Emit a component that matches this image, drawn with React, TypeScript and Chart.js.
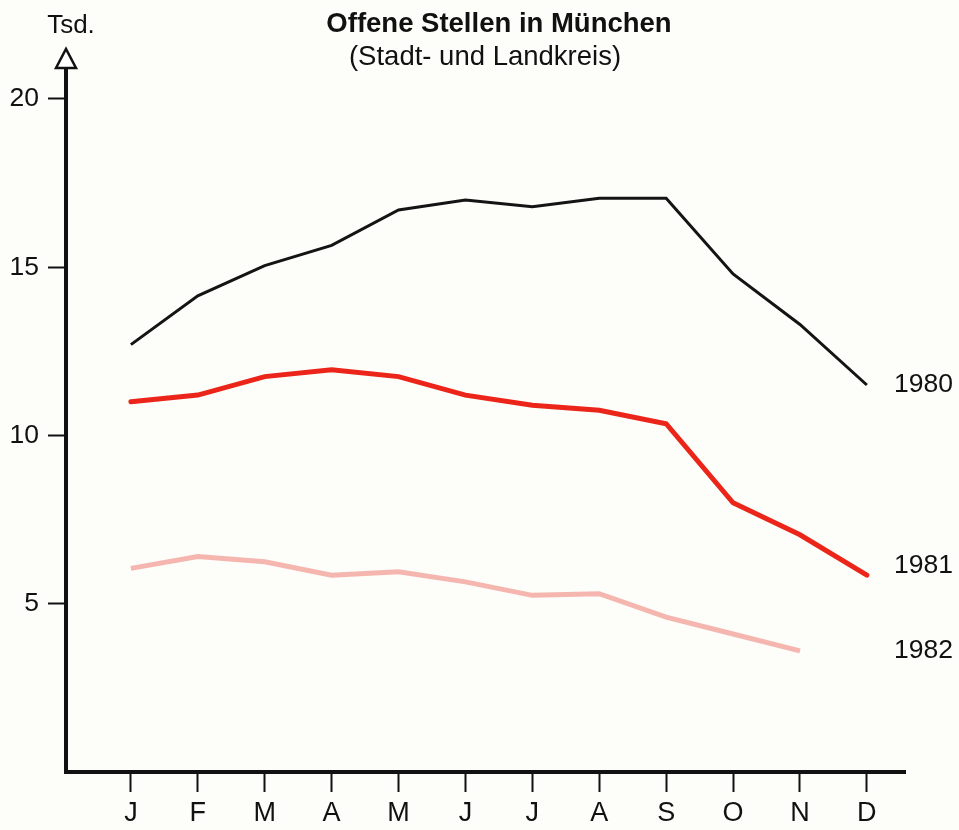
import React, { useEffect, useRef } from "react";
import { Chart, registerables } from "chart.js";

Chart.register(...registerables);

const months = ["J", "F", "M", "A", "M", "J", "J", "A", "S", "O", "N", "D"];
const values1980 = [12.7, 14.15, 15.05, 15.65, 16.7, 17.0, 16.8, 17.05, 17.05, 14.8, 13.3, 11.5];
const values1981 = [11.0, 11.2, 11.75, 11.95, 11.75, 11.2, 10.9, 10.75, 10.35, 8.0, 7.05, 5.85];
const values1982 = [6.05, 6.4, 6.25, 5.85, 5.95, 5.65, 5.25, 5.3, 4.6, 4.1, 3.6, null];
const yTicks = [5, 10, 15, 20];
const seriesNames = ["1980", "1981", "1982"];
const titleText = "Offene Stellen in München";
const subtitleText = "(Stadt- und Landkreis)";
const unitText = "Tsd.";

const FONT = '"Liberation Sans", Arial, Helvetica, sans-serif';
const INK = "#111111";
const BG = "#fdfdf9";

const toPoints = (vals: (number | null)[]) => vals.map((v, i) => ({ x: i, y: v }));

const decorPlugin = {
  id: "decor",
  beforeDraw(chart: any) {
    const { ctx } = chart;
    ctx.save();
    ctx.fillStyle = BG;
    ctx.fillRect(0, 0, chart.width, chart.height);
    ctx.restore();
  },
  afterDraw(chart: any) {
    const { ctx, chartArea } = chart;
    const ax = chartArea.left;
    const top = chartArea.top;
    ctx.save();
    // arrow head on y axis
    ctx.beginPath();
    ctx.moveTo(ax - 10, top + 1);
    ctx.lineTo(ax + 10, top + 1);
    ctx.lineTo(ax, top - 18);
    ctx.closePath();
    ctx.fillStyle = "#ffffff";
    ctx.fill();
    ctx.lineWidth = 2.5;
    ctx.strokeStyle = INK;
    ctx.stroke();

    ctx.fillStyle = INK;
    ctx.textBaseline = "alphabetic";
    ctx.textAlign = "center";
    ctx.font = `26px ${FONT}`;
    ctx.fillText(unitText, 71, 33);
    ctx.font = `bold 27.5px ${FONT}`;
    ctx.fillText(titleText, 499, 32);
    ctx.font = `27.5px ${FONT}`;
    ctx.fillText(subtitleText, 485, 65);

    ctx.textAlign = "left";
    ctx.font = `26.5px ${FONT}`;
    const labelY = [392, 573, 658];
    seriesNames.forEach((n, i) => ctx.fillText(n, 894, labelY[i]));
    ctx.restore();
  },
};

export default function App() {
  const ref = useRef<HTMLCanvasElement | null>(null);
  useEffect(() => {
    document.body.style.margin = "0";
    document.body.style.background = BG;
    if (!ref.current) return;
    const chart = new Chart(ref.current, {
      type: "line",
      data: {
        datasets: [
          {
            data: toPoints(values1980) as any,
            borderColor: "#141414",
            borderWidth: 3,
            pointRadius: 0,
            tension: 0,
          },
          {
            data: toPoints(values1981) as any,
            borderColor: "#eb2519",
            borderWidth: 5,
            pointRadius: 0,
            tension: 0,
            borderCapStyle: "round",
          },
          {
            data: toPoints(values1982) as any,
            borderColor: "#f5b6b0",
            borderWidth: 5,
            pointRadius: 0,
            tension: 0,
            spanGaps: false,
          },
        ],
      },
      options: {
        responsive: false,
        animation: false,
        devicePixelRatio: 1,
        layout: { padding: { left: 0, top: 67, right: 54, bottom: 0 } },
        plugins: {
          legend: { display: false },
          tooltip: { enabled: false },
          title: { display: false },
        },
        scales: {
          x: {
            type: "linear",
            min: -0.97,
            max: 11.57,
            afterBuildTicks: (s: any) => {
              s.ticks = months.map((_, i) => ({ value: i }));
            },
            afterFit: (s: any) => {
              s.height = 58;
            },
            ticks: {
              callback: (v: any) => months[v as number],
              font: { family: FONT, size: 27 },
              color: INK,
              padding: 5,
              maxRotation: 0,
              autoSkip: false,
            },
            grid: {
              drawOnChartArea: false,
              drawTicks: true,
              tickLength: 20,
              tickWidth: 2,
              tickColor: INK,
            },
            border: { display: true, color: INK, width: 4 },
          },
          y: {
            min: 0,
            max: 20.95,
            afterBuildTicks: (s: any) => {
              s.ticks = yTicks.map((v) => ({ value: v }));
            },
            afterFit: (s: any) => {
              s.width = 66;
            },
            ticks: {
              font: { family: FONT, size: 26.5 },
              color: INK,
              padding: 9,
            },
            grid: {
              drawOnChartArea: false,
              drawTicks: true,
              tickLength: 18,
              tickWidth: 2,
              tickColor: INK,
            },
            border: { display: true, color: INK, width: 4 },
          },
        },
      } as any,
      plugins: [decorPlugin],
    });
    return () => chart.destroy();
  }, []);
  return (
    <div style={{ width: 959, height: 830, background: BG }}>
      <canvas ref={ref} width={959} height={830} style={{ display: "block", width: 959, height: 830 }} />
    </div>
  );
}
